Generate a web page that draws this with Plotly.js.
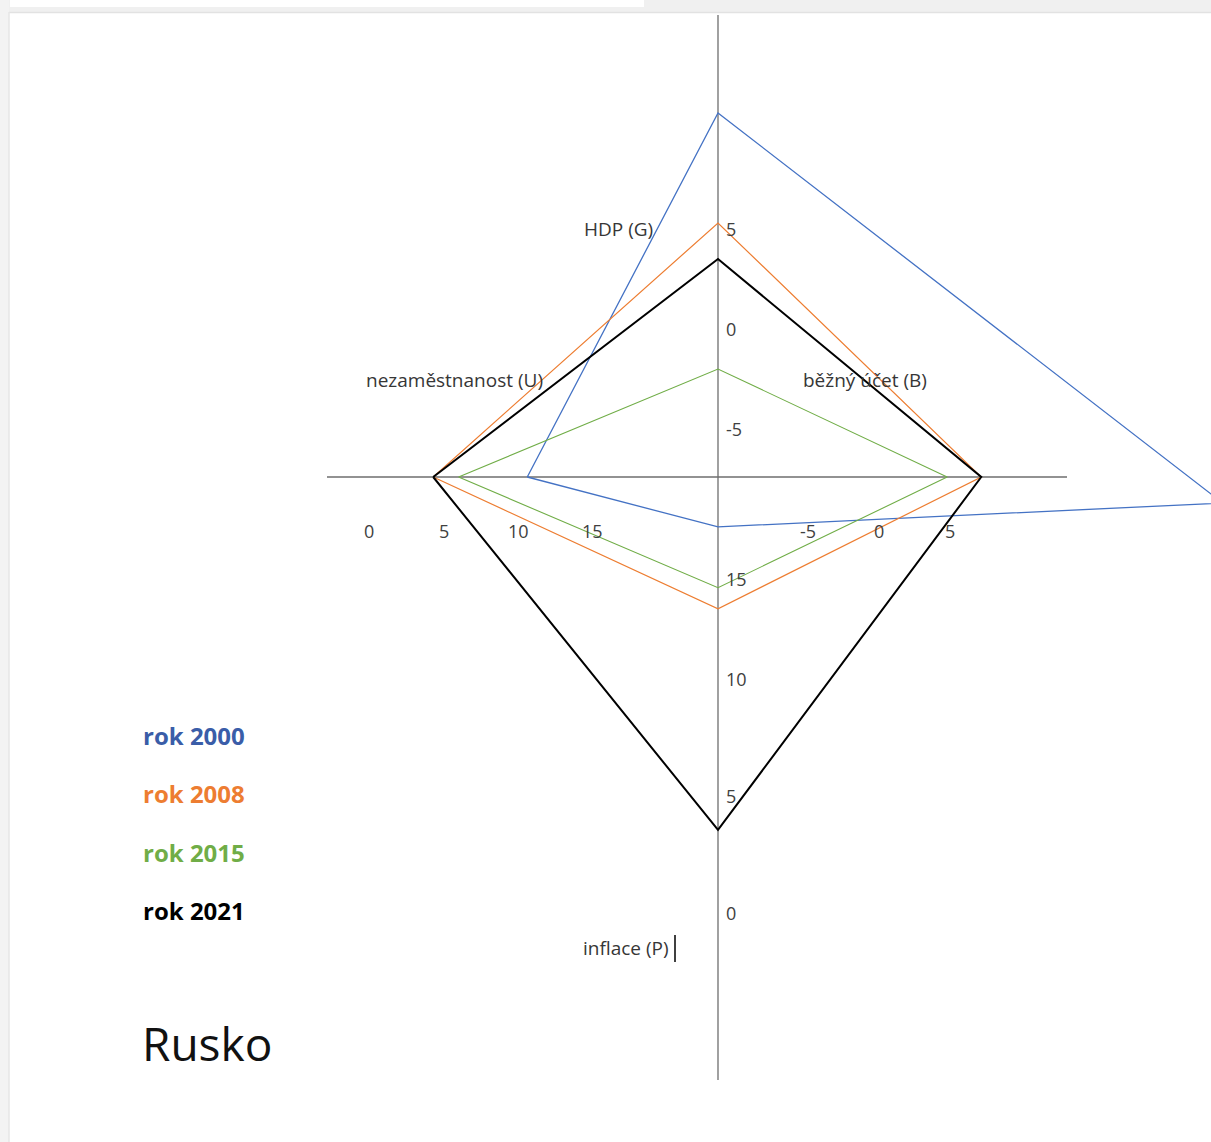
<!DOCTYPE html>
<html>
<head>
<meta charset="utf-8">
<script src="https://cdn.plot.ly/plotly-3.0.1.min.js"></script>
<style>
  html, body { margin: 0; padding: 0; background: #ffffff; }
  #chart { width: 1211px; height: 1142px; }
</style>
</head>
<body>
<div id="chart"></div>
<script>
// ---------- DATA ----------
const roky = ["rok 2000", "rok 2008", "rok 2015", "rok 2021"];
const barvy = ["#4472C4", "#ED7D31", "#70AD47", "#000000"];
const barvyTextu = ["#3A5DA8", "#ED7D31", "#70AD47", "#000000"];
const sirkyCar = [1.3, 1.2, 1.1, 2.0];

// HDP (G) – upper half axis
const hdp = [10.8, 5.3, -2.0, 3.5];
// běžný účet (B) – right half axis
const beznyUcet = [24.2, 7.2, 4.8, 7.2];
// vertical drift of the B-vertex (in G units) as drawn in the picture
const beznyUcetPosun = [-1.3, 0, 0, 0];
// inflace (P) – lower half axis
const inflace = [16.5, 13.0, 13.9, 3.55];
// nezaměstnanost (U) – left half axis
const nezamestnanost = [10.6, 4.3, 6.0, 4.3];

// tick labels of each half axis
const tickyG = [5, 0, -5];
const tickyB = [-5, 0, 5];
const tickyP = [15, 10, 5, 0];
const tickyU = [0, 5, 10, 15];

const nazvyOs = {G: "HDP (G)", B: "běžný účet (B)", P: "inflace (P)", U: "nezaměstnanost (U)"};
const zeme = "Rusko";

// ---------- SCALES (canvas frame in pixels) ----------
const CX = 718, CY = 477;
const gY = v => 329 - 20 * v;
const bX = v => 879 + 14.2 * v;
const pY = v => 913 - 23.4 * v;
const uX = v => 369 + 14.93 * v;

// ---------- TRACES ----------
const traces = roky.map((rok, i) => {
  const xs = [uX(nezamestnanost[i]), CX, bX(beznyUcet[i]), CX, uX(nezamestnanost[i])];
  const ys = [CY, gY(hdp[i]), CY + (-beznyUcetPosun[i]) * 20, pY(inflace[i]), CY];
  return {
    type: "scatter", mode: "lines", name: rok,
    x: xs, y: ys,
    line: {color: barvy[i], width: sirkyCar[i]},
    hoverinfo: "skip", showlegend: false, cliponaxis: true
  };
});

// ---------- ANNOTATIONS ----------
const tickFont = {family: "Open Sans, sans-serif", size: 18, color: "#404040"};
const ann = [];
tickyG.forEach(t => ann.push({x: CX + 6, y: gY(t), text: String(t), xanchor: "left", yanchor: "middle", showarrow: false, font: tickFont}));
tickyB.forEach(t => ann.push({x: bX(t), y: 531, text: String(t), xanchor: "center", yanchor: "middle", showarrow: false, font: tickFont}));
const posunP = {15: -17};
tickyP.forEach(t => ann.push({x: CX + 6, y: pY(t), yshift: posunP[t] || 0, text: String(t), xanchor: "left", yanchor: "middle", showarrow: false, font: tickFont}));
tickyU.forEach(t => ann.push({x: uX(t), y: 531, text: String(t), xanchor: "center", yanchor: "middle", showarrow: false, font: tickFont}));

const axisFont = {family: "Open Sans, sans-serif", size: 19, color: "#363636"};
ann.push({x: 618, y: 229, text: nazvyOs.G, showarrow: false, xanchor: "center", yanchor: "middle", font: axisFont});
ann.push({x: 454, y: 380, text: nazvyOs.U, showarrow: false, xanchor: "center", yanchor: "middle", font: axisFont});
ann.push({x: 865, y: 380, text: nazvyOs.B, showarrow: false, xanchor: "center", yanchor: "middle", font: axisFont});
ann.push({x: 626, y: 948, text: nazvyOs.P, showarrow: false, xanchor: "center", yanchor: "middle", font: axisFont});

const legY = [735, 793, 852, 910];
roky.forEach((r, i) => ann.push({
  x: 141, y: legY[i], text: "<b>" + r + "</b>", showarrow: false, xanchor: "left", yanchor: "middle",
  font: {family: "Open Sans, sans-serif", size: 24, color: barvyTextu[i]}
}));
ann.push({x: 140, y: 1043, text: zeme, showarrow: false, xanchor: "left", yanchor: "middle",
  font: {family: "Open Sans, sans-serif", size: 46, color: "#111111"}});

// ---------- SHAPES (axes + page frame) ----------
const axisLine = {color: "#6e6e6e", width: 1.3};
const shapes = [
  {type: "rect", xref: "x", yref: "y", x0: 0, x1: 1211, y0: 0, y1: 12, fillcolor: "#f0f0f0", line: {width: 0}, layer: "below"},
  {type: "rect", xref: "x", yref: "y", x0: 10, x1: 644, y0: 0, y1: 7, fillcolor: "#ffffff", line: {width: 0}, layer: "below"},
  {type: "rect", xref: "x", yref: "y", x0: 0, x1: 9, y0: 0, y1: 1142, fillcolor: "#f3f3f3", line: {width: 0}, layer: "below"},
  {type: "line", xref: "x", yref: "y", x0: 9, x1: 1211, y0: 12.5, y1: 12.5, line: {color: "#e2e2e2", width: 1.5}, layer: "below"},
  {type: "line", xref: "x", yref: "y", x0: 9, x1: 9, y0: 12, y1: 1142, line: {color: "#e6e6e6", width: 1.5}, layer: "below"},
  {type: "line", xref: "x", yref: "y", x0: 327, x1: 1067, y0: CY, y1: CY, line: axisLine, layer: "below"},
  {type: "line", xref: "x", yref: "y", x0: CX, x1: CX, y0: 15, y1: 1080, line: axisLine, layer: "below"},
  {type: "line", xref: "x", yref: "y", x0: 675, x1: 675, y0: 935, y1: 962, line: {color: "#000", width: 1.5}}
];

const layout = {
  width: 1211, height: 1142,
  margin: {l: 0, r: 0, t: 0, b: 0, pad: 0},
  paper_bgcolor: "#ffffff", plot_bgcolor: "#ffffff",
  xaxis: {range: [0, 1211], visible: false, fixedrange: true},
  yaxis: {range: [1142, 0], visible: false, fixedrange: true},
  showlegend: false,
  annotations: ann,
  shapes: shapes
};

Plotly.newPlot("chart", traces, layout, {displayModeBar: false, staticPlot: true});
</script>
</body>
</html>
